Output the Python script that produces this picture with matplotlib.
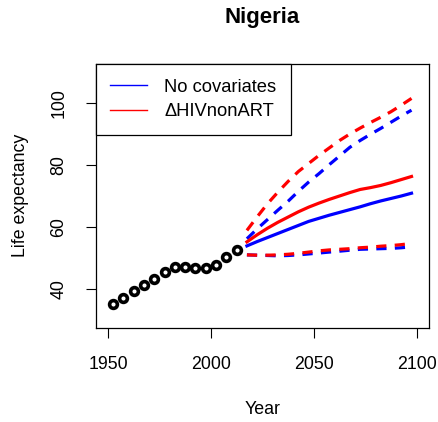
import matplotlib
matplotlib.use("Agg")
import matplotlib.pyplot as plt
from matplotlib.lines import Line2D

plt.rcParams['font.family'] = ['Liberation Sans', 'DejaVu Sans']

# observed life expectancy (5-year periods)
obs_years = [1952.5, 1957.5, 1962.5, 1967.5, 1972.5, 1977.5, 1982.5,
             1987.5, 1992.5, 1997.5, 2002.5, 2007.5, 2012.5]
obs_e0 = [35.3, 37.2, 39.6, 41.3, 43.4, 45.6, 47.2, 47.2, 47.0, 46.8, 47.7, 50.4, 52.6]

# projections
proj_years = [2017.5, 2022.5, 2027.5, 2032.5, 2037.5, 2042.5, 2047.5, 2052.5, 2057.5,
              2062.5, 2067.5, 2072.5, 2077.5, 2082.5, 2087.5, 2092.5, 2097.5]

nocov_median = [54.0, 55.4, 56.7, 58.0, 59.3, 60.6, 61.9, 62.9, 63.9,
                64.8, 65.7, 66.6, 67.6, 68.5, 69.3, 70.1, 71.0]
nocov_upper = [56.3, 59.5, 62.5, 65.5, 68.4, 71.6, 74.6, 77.3, 80.2,
               83.0, 85.8, 88.0, 90.0, 91.9, 93.9, 95.9, 97.8]
nocov_lower = [51.1, 51.0, 50.9, 50.8, 50.9, 51.1, 51.4, 51.7, 52.0,
               52.3, 52.6, 52.9, 53.0, 53.1, 53.2, 53.4, 53.7]

hiv_median = [55.3, 57.6, 59.7, 61.6, 63.3, 65.0, 66.5, 67.8, 69.0,
              70.1, 71.2, 72.2, 72.8, 73.5, 74.4, 75.4, 76.4]
hiv_upper = [59.0, 63.4, 67.6, 71.3, 74.8, 78.0, 80.6, 83.2, 85.6,
             88.0, 90.1, 92.0, 93.8, 95.5, 97.3, 99.4, 101.6]
hiv_lower = [51.1, 51.0, 51.0, 51.1, 51.3, 51.6, 52.0, 52.4, 52.7,
             52.9, 53.1, 53.4, 53.6, 53.9, 54.1, 54.4, 54.8]

x_ticks = [1950, 2000, 2050, 2100]
y_ticks = [40, 60, 80, 100]

W, H = 439, 422
fig = plt.figure(figsize=(W / 100, H / 100), dpi=100)
L, R, T, B = 95.7, 429, 64, 327.7
ax = fig.add_axes([L / W, 1 - B / H, (R - L) / W, (B - T) / H])

lw = 2.3
dash = (3.2, 2.6)
ax.plot(proj_years, nocov_median, color='blue', lw=lw)
ax.plot(proj_years, nocov_upper, color='blue', lw=lw, dashes=dash)
ax.plot(proj_years, nocov_lower, color='blue', lw=lw, dashes=dash)
ax.plot(proj_years, hiv_median, color='red', lw=lw)
ax.plot(proj_years, hiv_upper, color='red', lw=lw, dashes=dash)
ax.plot(proj_years, hiv_lower, color='red', lw=lw, dashes=dash)
ax.plot(obs_years, obs_e0, 'o', mfc='white', mec='black', ms=5.6, mew=2.6)

ax.set_xlim(1944, 2106)
ax.set_ylim(27.6, 112.7)
ax.set_xticks(x_ticks)
ax.set_yticks(y_ticks)
ax.set_yticklabels([str(v) for v in y_ticks], rotation=90, va='center')
ax.tick_params(direction='out', length=7.5, width=0.8, labelsize=12.8, pad=13)
for s in ax.spines.values():
    s.set_linewidth(0.9)

handles = [Line2D([], [], color='blue', lw=1), Line2D([], [], color='red', lw=1)]
leg = ax.legend(handles, ['No covariates', '\u0394HIVnonART'], loc='upper left',
                bbox_to_anchor=(0, 1), borderaxespad=0, fancybox=False,
                edgecolor='black', framealpha=1, fontsize=13.2,
                handlelength=2.0, handletextpad=0.95, borderpad=0.8,
                labelspacing=0.4)
leg.get_frame().set_linewidth(0.9)

fig.text((L + R) / 2 / W, 1 - 18 / H, 'Nigeria', ha='center', va='center',
         fontsize=16, fontweight='bold')
fig.text((L + R) / 2 / W, 1 - 409 / H, 'Year', ha='center', va='center', fontsize=12.8)
fig.text(21 / W, 1 - ((T + B) / 2) / H, 'Life expectancy',
         ha='center', va='center', rotation=90, fontsize=12.8)

fig.savefig('out.png', dpi=100)
